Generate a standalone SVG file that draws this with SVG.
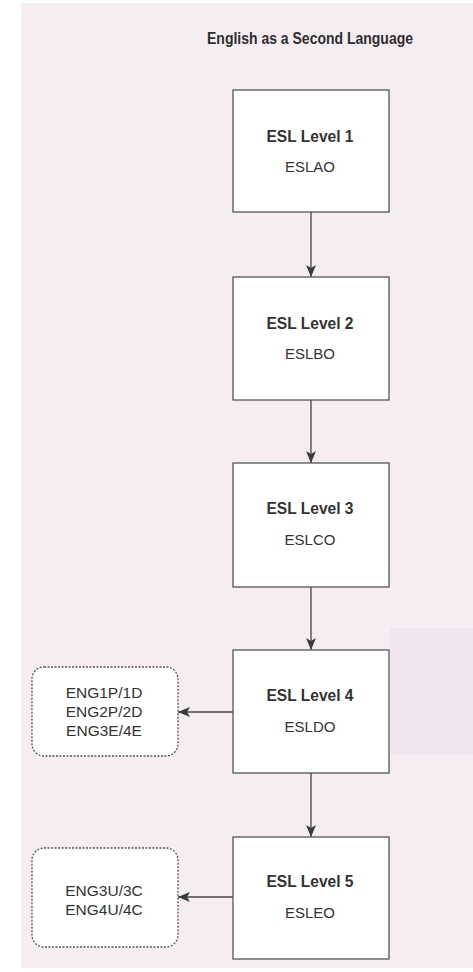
<svg xmlns="http://www.w3.org/2000/svg" width="473" height="972" viewBox="0 0 473 972">
  <defs>
    <marker id="ah" viewBox="0 0 12 10" refX="12" refY="5" markerWidth="12" markerHeight="10" markerUnits="userSpaceOnUse" orient="auto">
      <path d="M0,0 L12,5 L0,10 L3,5 Z" fill="#3a3a3a"/>
    </marker>
  </defs>
  <style>
    .box { fill: #ffffff; stroke: #555555; stroke-width: 1.3; }
    .dbox { fill: #ffffff; stroke: #555555; stroke-width: 1.3; stroke-dasharray: 2 1.5; }
    .t1 { font-family: "Liberation Sans", Arial, sans-serif; font-weight: bold; font-size: 16px; fill: #333333; text-anchor: middle; }
    .t2 { font-family: "Liberation Sans", Arial, sans-serif; font-size: 15px; fill: #333333; text-anchor: middle; }
    .t3 { font-family: "Liberation Sans", Arial, sans-serif; font-size: 15.5px; fill: #333333; text-anchor: middle; }
    .title { font-family: "Liberation Sans", Arial, sans-serif; font-weight: bold; font-size: 17px; fill: #2e2e2e; text-anchor: middle; }
    .conn { stroke: #444444; stroke-width: 1.3; fill: none; marker-end: url(#ah); }
  </style>
  <rect x="0" y="0" width="473" height="972" fill="#ffffff"/>
  <rect x="21" y="3" width="452" height="965" fill="#f6edf3"/>
  <rect x="390" y="628" width="83" height="127" fill="#f1e6ed"/>

  <text class="title" x="310" y="44" textLength="206" lengthAdjust="spacingAndGlyphs">English as a Second Language</text>

  <g id="connectors">
    <line class="conn" x1="311" y1="212" x2="311" y2="277"/>
    <line class="conn" x1="311" y1="400" x2="311" y2="463"/>
    <line class="conn" x1="311" y1="587" x2="311" y2="650"/>
    <line class="conn" x1="311" y1="773" x2="311" y2="837"/>
    <line class="conn" x1="233" y1="712" x2="178" y2="712"/>
    <line class="conn" x1="233" y1="897" x2="178" y2="897"/>
  </g>

  <g id="esl1">
    <rect class="box" x="233" y="90" width="156" height="122"/>
    <text class="t1" x="310" y="142" textLength="87" lengthAdjust="spacingAndGlyphs">ESL Level 1</text>
    <text class="t2" x="310" y="172">ESLAO</text>
  </g>
  <g id="esl2">
    <rect class="box" x="233" y="277" width="156" height="123"/>
    <text class="t1" x="310" y="329" textLength="87" lengthAdjust="spacingAndGlyphs">ESL Level 2</text>
    <text class="t2" x="310" y="359">ESLBO</text>
  </g>
  <g id="esl3">
    <rect class="box" x="233" y="463" width="156" height="124"/>
    <text class="t1" x="310" y="514" textLength="87" lengthAdjust="spacingAndGlyphs">ESL Level 3</text>
    <text class="t2" x="310" y="545">ESLCO</text>
  </g>
  <g id="esl4">
    <rect class="box" x="233" y="650" width="156" height="123"/>
    <text class="t1" x="310" y="701" textLength="87" lengthAdjust="spacingAndGlyphs">ESL Level 4</text>
    <text class="t2" x="310" y="732">ESLDO</text>
  </g>
  <g id="esl5">
    <rect class="box" x="233" y="837" width="156" height="122"/>
    <text class="t1" x="310" y="887" textLength="87" lengthAdjust="spacingAndGlyphs">ESL Level 5</text>
    <text class="t2" x="310" y="918">ESLEO</text>
  </g>

  <g id="eng-a">
    <rect class="dbox" x="32" y="667" width="146" height="89" rx="12" ry="12"/>
    <text class="t3" x="104" y="698">ENG1P/1D</text>
    <text class="t3" x="104" y="717">ENG2P/2D</text>
    <text class="t3" x="104" y="736">ENG3E/4E</text>
  </g>
  <g id="eng-b">
    <rect class="dbox" x="32" y="848" width="146" height="99" rx="12" ry="12"/>
    <text class="t3" x="104" y="896">ENG3U/3C</text>
    <text class="t3" x="104" y="915">ENG4U/4C</text>
  </g>
</svg>
